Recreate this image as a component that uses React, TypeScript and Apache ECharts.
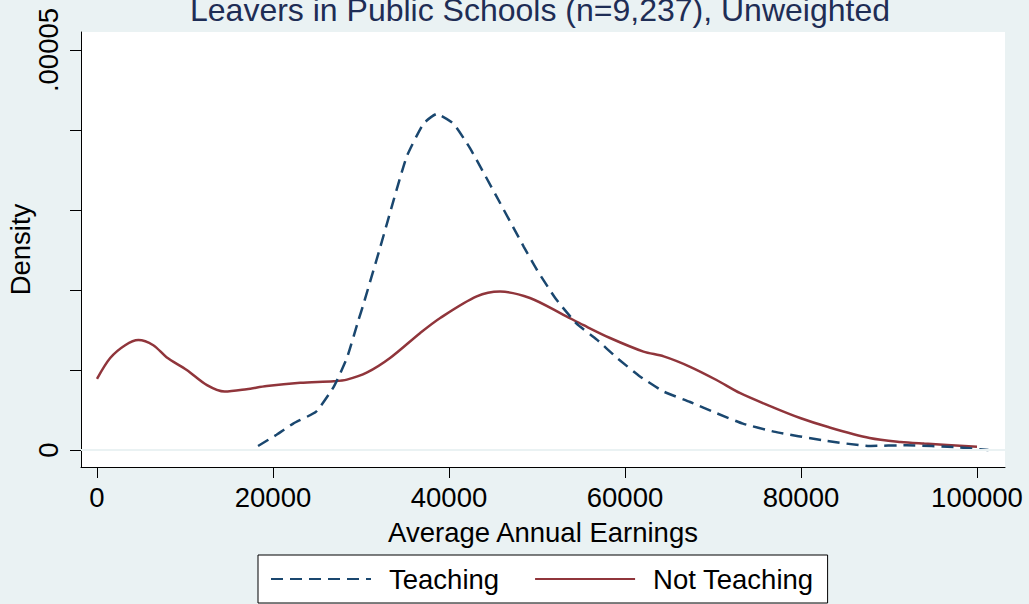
import React, { useEffect, useRef } from 'react';
import * as echarts from 'echarts';

const titleText = 'Leavers in Public Schools (n=9,237), Unweighted';
const seriesNames = ['Teaching', 'Not Teaching'];

const teachingEarnings = [18300, 20400, 22300, 24900, 26900, 28400, 29700, 30300, 32200, 33700, 35200, 37100, 38600, 40500, 42400, 45400, 48500, 50000, 52200, 54500, 56800, 59100, 61700, 64400, 67400, 70400, 73400, 76900, 82500, 87800, 92000, 97700, 101300];
const teachingDensity = [5e-7, 1.9e-6, 3.3e-6, 4.8e-6, 7.9e-6, 1.15e-5, 1.62e-5, 1.83e-5, 2.54e-5, 3.12e-5, 3.67e-5, 4.08e-5, 4.2e-5, 4.08e-5, 3.77e-5, 3.17e-5, 2.54e-5, 2.25e-5, 1.88e-5, 1.58e-5, 1.38e-5, 1.15e-5, 9.2e-6, 7.3e-6, 6.0e-6, 4.6e-6, 3.3e-6, 2.3e-6, 1.2e-6, 5e-7, 6e-7, 3.5e-7, 0];

const notTeachingEarnings = [0, 1500, 3200, 4700, 6400, 7900, 10200, 12500, 14500, 17000, 19300, 23100, 26900, 28400, 30700, 33300, 36700, 39000, 43150, 45800, 49200, 53000, 55300, 58300, 62100, 64400, 67400, 70400, 73100, 76900, 79900, 83000, 87800, 91300, 94000, 100000];
const notTeachingDensity = [8.9e-6, 1.15e-5, 1.31e-5, 1.375e-5, 1.31e-5, 1.16e-5, 1.0e-5, 8.1e-6, 7.3e-6, 7.6e-6, 8.0e-6, 8.4e-6, 8.6e-6, 8.8e-6, 9.7e-6, 1.15e-5, 1.46e-5, 1.65e-5, 1.92e-5, 1.98e-5, 1.9e-5, 1.69e-5, 1.56e-5, 1.4e-5, 1.23e-5, 1.17e-5, 1.04e-5, 8.75e-6, 7.1e-6, 5.3e-6, 4.0e-6, 2.9e-6, 1.5e-6, 1.0e-6, 8e-7, 4.2e-7];

const xTickValues = [0, 20000, 40000, 60000, 80000, 100000];
const yTickValues = [0, 0.00001, 0.00002, 0.00003, 0.00004, 0.00005];
const yLabelValues = [0, 0.00005];
const yLabelTexts = ['0', '.00005'];
const gridLineValues = [0, 0.00005];

const FONT = '"Liberation Sans", Arial, Helvetica, sans-serif';
const FS = 27.5;
const BG = '#EAF2F3';
const BLUE = '#1A476F';
const RED = '#90353B';

export default function App() {
  const ref = useRef<HTMLDivElement>(null);
  useEffect(() => {
    if (!ref.current) return;
    const chart = echarts.init(ref.current, undefined, { renderer: 'svg' });
    const option: any = {
      animation: false,
      backgroundColor: BG,
      textStyle: { fontFamily: FONT },
      graphic: [
        {
          type: 'text',
          x: 540,
          y: 10,
          style: {
            text: titleText,
            textAlign: 'center',
            textVerticalAlign: 'middle',
            fontSize: 32,
            fontFamily: FONT,
            fill: '#1E2D55',
          },
        },
      ],
      grid: {
        left: 81,
        right: 24,
        top: 32,
        bottom: 137,
        show: true,
        backgroundColor: '#ffffff',
        borderWidth: 0,
        containLabel: false,
        outerBoundsMode: 'none',
      },
      legend: {
        left: 258,
        top: 555,
        orient: 'horizontal',
        data: seriesNames,
        itemWidth: 100,
        itemHeight: 14,
        itemGap: 35,
        padding: [10, 14, 10, 12],
        borderColor: '#000',
        borderWidth: 1,
        backgroundColor: '#fff',
        itemStyle: { opacity: 0 },
        textStyle: { fontSize: FS, color: '#000', fontFamily: FONT, padding: [0, 0, 0, 13] },
      },
      xAxis: {
        type: 'value',
        min: -1818,
        max: 103182,
        name: 'Average Annual Earnings',
        nameLocation: 'middle',
        nameGap: 51,
        nameMoveOverlap: false,
        nameTextStyle: { fontSize: FS, color: '#000', fontFamily: FONT },
        axisLine: { show: true, onZero: false, lineStyle: { color: '#000', width: 1 } },
        axisTick: { show: true, customValues: xTickValues, length: 11, lineStyle: { color: '#000' } },
        axisLabel: {
          customValues: xTickValues,
          margin: 16,
          fontSize: FS,
          color: '#000',
          fontFamily: FONT,
          formatter: (v: number) => String(v),
        },
        splitLine: { show: false },
      },
      yAxis: {
        type: 'value',
        min: -0.000002125,
        max: 0.00005225,
        name: 'Density',
        nameLocation: 'middle',
        nameGap: 47,
        nameRotate: 90,
        nameMoveOverlap: false,
        nameTextStyle: { fontSize: FS, color: '#000', fontFamily: FONT },
        axisLine: { show: true, onZero: false, lineStyle: { color: '#000', width: 1 } },
        axisTick: { show: true, customValues: yTickValues, length: 11, lineStyle: { color: '#000' } },
        axisLabel: {
          customValues: yLabelValues,
          rotate: 90,
          margin: 19,
          fontSize: FS,
          color: '#000',
          fontFamily: FONT,
          formatter: (v: number) => {
            const i = yLabelValues.findIndex((u) => Math.abs(u - v) < 1e-12);
            return i >= 0 ? yLabelTexts[i] : '';
          },
        },
        splitLine: { show: false },
      },
      series: [
        {
          name: 'gridlines',
          type: 'line',
          data: [],
          z: 1,
          silent: true,
          markLine: {
            silent: true,
            symbol: ['none', 'none'],
            label: { show: false },
            lineStyle: { color: BG, width: 2, type: 'solid' },
            data: gridLineValues.map((v) => ({ yAxis: v })),
          },
        },
        {
          name: seriesNames[0],
          type: 'line',
          data: teachingEarnings.map((x, i) => [x, teachingDensity[i]]),
          showSymbol: false,
          symbol: 'none',
          smooth: 0.15,
          z: 3,
          lineStyle: { color: BLUE, width: 2.5, type: [12, 7] },
          itemStyle: { color: BLUE },
        },
        {
          name: seriesNames[1],
          type: 'line',
          data: notTeachingEarnings.map((x, i) => [x, notTeachingDensity[i]]),
          showSymbol: false,
          symbol: 'none',
          smooth: 0.3,
          z: 2,
          lineStyle: { color: RED, width: 2.5, type: 'solid' },
          itemStyle: { color: RED },
        },
      ],
    };
    chart.setOption(option);
    return () => chart.dispose();
  }, []);
  return (
    <div
      ref={ref}
      style={{ position: 'fixed', left: 0, top: 0, width: 1029, height: 604, background: BG }}
    />
  );
}
